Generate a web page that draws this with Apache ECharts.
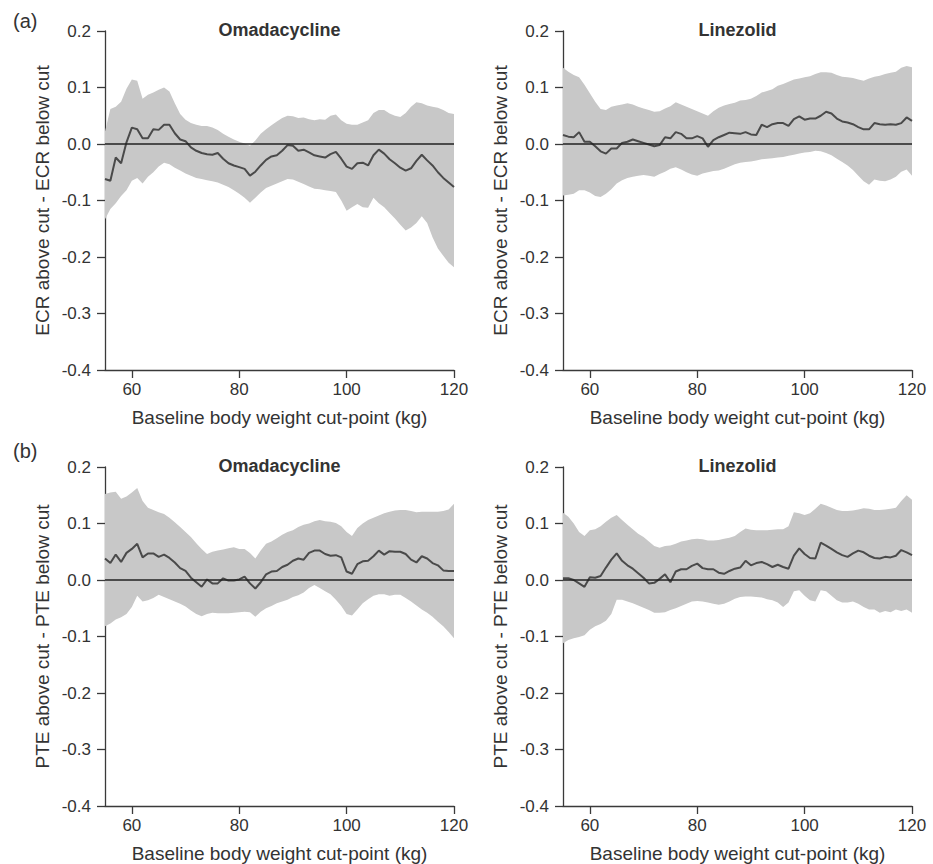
<!DOCTYPE html>
<html><head><meta charset="utf-8">
<script src="https://cdn.jsdelivr.net/npm/echarts@6/dist/echarts.min.js"></script>
<style>html,body{margin:0;padding:0;background:#fff}#c{width:933px;height:864px}</style>
</head><body><div id="c"></div>
<script>
const weights = [55,56,57,58,59,60,61,62,63,64,65,66,67,68,69,70,71,72,73,74,75,76,77,78,79,80,81,82,83,84,85,86,87,88,89,90,91,92,93,94,95,96,97,98,99,100,101,102,103,104,105,106,107,108,109,110,111,112,113,114,115,116,117,118,119,120];
const xTicks = [60,80,100,120];

// (a) ECR — Omadacycline
const omaEcrMid = [-0.062,-0.065,-0.024,-0.034,0.003,0.029,0.026,0.010,0.010,0.026,
 0.025,0.034,0.034,0.019,0.008,0.005,-0.006,-0.012,-0.016,-0.018,
 -0.019,-0.016,-0.026,-0.034,-0.038,-0.041,-0.044,-0.056,-0.049,-0.038,
 -0.028,-0.022,-0.020,-0.012,-0.002,-0.003,-0.012,-0.010,-0.015,-0.020,
 -0.022,-0.024,-0.018,-0.014,-0.026,-0.040,-0.044,-0.034,-0.033,-0.038,
 -0.020,-0.010,-0.017,-0.027,-0.034,-0.042,-0.047,-0.043,-0.030,-0.019,
 -0.029,-0.038,-0.050,-0.060,-0.068,-0.076];
const omaEcrHi = [0.022,0.062,0.066,0.075,0.098,0.114,0.112,0.080,0.087,0.091,
 0.096,0.100,0.093,0.072,0.053,0.043,0.037,0.034,0.032,0.032,
 0.029,0.025,0.018,0.013,0.008,0.004,0.001,-0.003,0.006,0.018,
 0.026,0.033,0.040,0.046,0.050,0.049,0.046,0.047,0.044,0.042,
 0.044,0.043,0.050,0.052,0.042,0.036,0.034,0.034,0.038,0.042,
 0.055,0.060,0.060,0.054,0.050,0.048,0.055,0.066,0.074,0.072,
 0.068,0.066,0.064,0.060,0.055,0.053];
const omaEcrLo = [-0.133,-0.115,-0.105,-0.092,-0.082,-0.065,-0.060,-0.070,-0.058,-0.050,
 -0.040,-0.033,-0.036,-0.042,-0.047,-0.052,-0.056,-0.060,-0.062,-0.064,
 -0.066,-0.068,-0.072,-0.076,-0.082,-0.088,-0.095,-0.104,-0.095,-0.086,
 -0.078,-0.074,-0.070,-0.066,-0.062,-0.063,-0.067,-0.071,-0.075,-0.079,
 -0.080,-0.082,-0.083,-0.085,-0.100,-0.118,-0.112,-0.106,-0.112,-0.113,
 -0.095,-0.105,-0.112,-0.122,-0.132,-0.143,-0.153,-0.148,-0.140,-0.128,
 -0.140,-0.165,-0.185,-0.198,-0.210,-0.218];

// (a) ECR — Linezolid
const linEcrMid = [0.016,0.013,0.012,0.021,0.004,0.004,-0.004,-0.013,-0.017,-0.008,
 -0.008,0.002,0.004,0.008,0.005,0.002,-0.001,-0.004,-0.002,0.012,
 0.010,0.021,0.018,0.010,0.010,0.014,0.010,-0.005,0.007,0.012,
 0.016,0.020,0.019,0.018,0.021,0.017,0.016,0.034,0.030,0.035,
 0.037,0.037,0.032,0.044,0.049,0.043,0.045,0.045,0.050,0.057,
 0.054,0.045,0.040,0.038,0.035,0.030,0.026,0.026,0.037,0.035,
 0.034,0.035,0.034,0.037,0.047,0.041];
const linEcrHi = [0.135,0.128,0.122,0.118,0.105,0.090,0.075,0.062,0.060,0.066,
 0.068,0.070,0.072,0.070,0.066,0.063,0.060,0.057,0.058,0.063,
 0.067,0.074,0.070,0.066,0.062,0.058,0.054,0.050,0.058,0.064,
 0.068,0.071,0.073,0.077,0.078,0.080,0.085,0.091,0.094,0.097,
 0.103,0.106,0.110,0.114,0.116,0.118,0.120,0.124,0.127,0.127,
 0.126,0.122,0.119,0.118,0.117,0.114,0.112,0.116,0.119,0.121,
 0.124,0.126,0.128,0.135,0.138,0.136];
const linEcrLo = [-0.091,-0.090,-0.088,-0.082,-0.082,-0.086,-0.092,-0.094,-0.088,-0.080,
 -0.070,-0.064,-0.060,-0.058,-0.056,-0.055,-0.056,-0.058,-0.053,-0.049,
 -0.044,-0.041,-0.045,-0.050,-0.054,-0.056,-0.052,-0.050,-0.048,-0.047,
 -0.044,-0.040,-0.036,-0.033,-0.032,-0.031,-0.029,-0.027,-0.026,-0.025,
 -0.024,-0.023,-0.021,-0.019,-0.017,-0.015,-0.014,-0.012,-0.013,-0.016,
 -0.020,-0.026,-0.032,-0.038,-0.046,-0.056,-0.066,-0.072,-0.063,-0.065,
 -0.066,-0.063,-0.058,-0.049,-0.045,-0.056];

// (b) PTE — Omadacycline
const omaPteMid = [0.038,0.030,0.045,0.032,0.048,0.055,0.064,0.040,0.047,0.047,
 0.041,0.045,0.039,0.031,0.021,0.016,0.004,-0.004,-0.012,0.001,
 -0.006,-0.006,0.003,-0.001,-0.001,0.001,0.006,-0.006,-0.015,-0.004,
 0.010,0.015,0.016,0.023,0.027,0.034,0.038,0.036,0.048,0.052,
 0.052,0.046,0.043,0.044,0.040,0.015,0.011,0.028,0.033,0.034,
 0.042,0.052,0.045,0.051,0.050,0.050,0.046,0.036,0.031,0.042,
 0.038,0.030,0.026,0.017,0.016,0.016];
const omaPteHi = [0.152,0.155,0.156,0.144,0.148,0.155,0.163,0.140,0.128,0.124,
 0.120,0.117,0.110,0.102,0.094,0.085,0.076,0.065,0.055,0.046,
 0.050,0.052,0.054,0.056,0.058,0.055,0.055,0.048,0.038,0.052,
 0.064,0.068,0.074,0.080,0.085,0.088,0.094,0.098,0.100,0.104,
 0.106,0.104,0.103,0.101,0.095,0.085,0.078,0.092,0.100,0.106,
 0.110,0.114,0.118,0.121,0.123,0.124,0.124,0.122,0.120,0.121,
 0.121,0.121,0.121,0.122,0.125,0.135];
const omaPteLo = [-0.082,-0.077,-0.070,-0.066,-0.060,-0.048,-0.028,-0.038,-0.036,-0.032,
 -0.026,-0.030,-0.034,-0.038,-0.042,-0.047,-0.054,-0.060,-0.064,-0.060,
 -0.058,-0.059,-0.059,-0.059,-0.058,-0.057,-0.056,-0.057,-0.065,-0.056,
 -0.050,-0.046,-0.041,-0.038,-0.035,-0.030,-0.027,-0.022,-0.014,-0.009,
 -0.014,-0.020,-0.025,-0.035,-0.046,-0.060,-0.063,-0.052,-0.041,-0.034,
 -0.028,-0.025,-0.025,-0.028,-0.026,-0.026,-0.032,-0.038,-0.045,-0.052,
 -0.058,-0.065,-0.074,-0.082,-0.092,-0.103];

// (b) PTE — Linezolid
const linPteMid = [0.003,0.003,0.000,-0.006,-0.012,0.005,0.004,0.007,0.022,0.036,
 0.047,0.034,0.026,0.020,0.012,0.004,-0.006,-0.005,0.002,0.010,
 -0.004,0.015,0.019,0.019,0.025,0.029,0.021,0.019,0.019,0.013,
 0.011,0.016,0.020,0.022,0.034,0.026,0.030,0.032,0.028,0.023,
 0.027,0.023,0.020,0.043,0.056,0.046,0.039,0.038,0.066,0.061,
 0.055,0.049,0.044,0.041,0.047,0.052,0.049,0.043,0.039,0.038,
 0.041,0.040,0.043,0.053,0.049,0.044];
const linPteHi = [0.119,0.112,0.100,0.085,0.078,0.088,0.090,0.095,0.103,0.110,
 0.115,0.106,0.098,0.090,0.082,0.076,0.068,0.060,0.057,0.060,
 0.061,0.064,0.068,0.070,0.072,0.073,0.072,0.070,0.070,0.071,
 0.073,0.075,0.078,0.085,0.091,0.089,0.088,0.088,0.088,0.089,
 0.090,0.090,0.095,0.120,0.118,0.115,0.118,0.126,0.135,0.132,
 0.128,0.124,0.122,0.122,0.123,0.125,0.127,0.126,0.124,0.124,
 0.125,0.126,0.128,0.140,0.150,0.142];
const linPteLo = [-0.112,-0.106,-0.103,-0.101,-0.098,-0.088,-0.082,-0.078,-0.072,-0.060,
 -0.035,-0.035,-0.038,-0.041,-0.045,-0.049,-0.053,-0.058,-0.058,-0.057,
 -0.053,-0.050,-0.046,-0.042,-0.038,-0.037,-0.038,-0.040,-0.042,-0.044,
 -0.042,-0.038,-0.033,-0.030,-0.029,-0.029,-0.030,-0.031,-0.034,-0.036,
 -0.040,-0.048,-0.040,-0.020,-0.018,-0.028,-0.036,-0.038,-0.018,-0.020,
 -0.028,-0.036,-0.040,-0.040,-0.038,-0.042,-0.048,-0.052,-0.052,-0.058,
 -0.055,-0.057,-0.052,-0.055,-0.052,-0.058];

const FONT = '"Liberation Sans", Arial, Helvetica, sans-serif';
const TXT = '#333';
const AX = '#3a3a3a';

const panels = [
  {mid: omaEcrMid, lo: omaEcrLo, hi: omaEcrHi, title: 'Omadacycline', yName: 'ECR above cut - ECR below cut', left: 105, top: 31},
  {mid: linEcrMid, lo: linEcrLo, hi: linEcrHi, title: 'Linezolid', yName: 'ECR above cut - ECR below cut', left: 563, top: 31},
  {mid: omaPteMid, lo: omaPteLo, hi: omaPteHi, title: 'Omadacycline', yName: 'PTE above cut - PTE below cut', left: 105, top: 467},
  {mid: linPteMid, lo: linPteLo, hi: linPteHi, title: 'Linezolid', yName: 'PTE above cut - PTE below cut', left: 563, top: 467}
];
const GW = 349, GH = 339;

const grid = [], xAxis = [], yAxis = [], series = [], title = [];
panels.forEach((p, i) => {
  grid.push({left: p.left, top: p.top, width: GW, height: GH, containLabel: false});
  xAxis.push({
    gridIndex: i, type: 'value', min: 55, max: 120,
    axisLine: {show: true, onZero: false, lineStyle: {color: AX, width: 1.3}},
    axisTick: {show: true, length: 8, customValues: xTicks, lineStyle: {color: AX, width: 1.3}},
    axisLabel: {customValues: xTicks, fontSize: 17, color: TXT, margin: 11, fontFamily: FONT},
    splitLine: {show: false},
    name: 'Baseline body weight cut-point (kg)', nameLocation: 'middle', nameGap: 38,
    nameTextStyle: {fontSize: 19, color: TXT, fontFamily: FONT}
  });
  yAxis.push({
    gridIndex: i, type: 'value', min: -0.4, max: 0.2, interval: 0.1,
    axisLine: {show: true, onZero: false, lineStyle: {color: AX, width: 1.3}},
    axisTick: {show: true, length: 8, lineStyle: {color: AX, width: 1.3}},
    axisLabel: {fontSize: 17, color: TXT, margin: 14, fontFamily: FONT,
      formatter: v => (Math.abs(v) < 1e-9 ? 0 : v).toFixed(1)},
    splitLine: {show: false},
    name: p.yName, nameLocation: 'middle', nameGap: 53,
    nameTextStyle: {fontSize: 19, color: TXT, fontFamily: FONT}
  });
  // confidence band drawn as one polygon through the axis scales
  series.push({
    type: 'custom', xAxisIndex: i, yAxisIndex: i, silent: true, z: 1,
    data: weights.map((w, k) => [w, p.lo[k], p.hi[k]]),
    encode: {x: 0, y: [1, 2]},
    renderItem: (params, api) => {
      if (params.dataIndex !== 0) return null;
      const up = weights.map((w, k) => api.coord([w, p.hi[k]]));
      const dn = weights.map((w, k) => api.coord([w, p.lo[k]])).reverse();
      return {type: 'polygon', shape: {points: up.concat(dn)}, style: {fill: '#c8c8c8'}};
    }
  });
  series.push({
    type: 'line', xAxisIndex: i, yAxisIndex: i, symbol: 'none', silent: true, z: 3,
    lineStyle: {color: '#4a4a4a', width: 2},
    data: weights.map((w, k) => [w, p.mid[k]]),
    markLine: {silent: true, symbol: 'none', label: {show: false},
      lineStyle: {color: '#222', width: 1.6, type: 'solid'}, data: [{yAxis: 0}]}
  });
  title.push({text: p.title, left: p.left + GW / 2, top: p.top - 10, textAlign: 'center', padding: 0,
    textStyle: {fontSize: 18, fontWeight: 'bold', color: TXT, fontFamily: FONT}});
});
title.push({text: '(a)', left: 13, top: 11, padding: 0, textStyle: {fontSize: 20, fontWeight: 'normal', color: TXT, fontFamily: FONT}});
title.push({text: '(b)', left: 13, top: 441, padding: 0, textStyle: {fontSize: 20, fontWeight: 'normal', color: TXT, fontFamily: FONT}});

const chart = echarts.init(document.getElementById('c'), null, {renderer: 'svg'});
chart.setOption({
  animation: false, backgroundColor: '#fff',
  textStyle: {fontFamily: FONT},
  title, grid, xAxis, yAxis, series
});
</script></body></html>
